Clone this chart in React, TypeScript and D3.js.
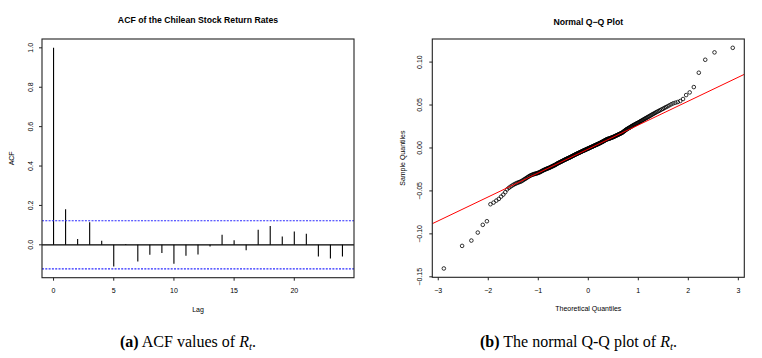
import { useEffect, useRef } from "react";
import * as d3 from "d3";

// ACF of the return series, lag 0..24
const acfLags = [0, 1, 2, 3, 4, 5, 6, 7, 8, 9, 10, 11, 12, 13, 14, 15, 16, 17, 18, 19, 20, 21, 22, 23, 24];
const acfValues = [
  1.0, 0.181, 0.03, 0.114, 0.021, -0.11, 0.004, -0.085, -0.051, -0.042, -0.096, -0.055, -0.049,
  -0.009, 0.051, 0.023, -0.028, 0.076, 0.095, 0.042, 0.068, 0.056, -0.059, -0.069, -0.059,
];
const confLimit = 0.122;
const acfXTicks = [0, 5, 10, 15, 20];
const acfYTicks = [0, 0.2, 0.4, 0.6, 0.8, 1.0];

// sorted sample quantiles
const sampleQuantiles = [
  -0.1403, -0.114, -0.1078, -0.0985, -0.0895, -0.0853, -0.0655, -0.0636, -0.0613, -0.0593, -0.0566, -0.0543, -0.0515,
  -0.0482, -0.0464, -0.045, -0.0438, -0.0427, -0.0418, -0.041,
  -0.0404, -0.0398, -0.0393, -0.0386, -0.0377, -0.0369, -0.0361, -0.0353, -0.0345, -0.0337,
  -0.033, -0.0323, -0.0318, -0.0313, -0.0309, -0.0305, -0.0302, -0.03, -0.0297, -0.0294,
  -0.0291, -0.0287, -0.0283, -0.0279, -0.0274, -0.0269, -0.0265, -0.026, -0.0256, -0.0252,
  -0.0249, -0.0245, -0.0242, -0.0238, -0.0236, -0.0233, -0.0229, -0.0226, -0.0222, -0.0218,
  -0.0215, -0.0211, -0.0208, -0.0204, -0.0201, -0.0197, -0.0193, -0.0189, -0.0184, -0.018,
  -0.0177, -0.0173, -0.017, -0.0167, -0.0163, -0.016, -0.0157, -0.0153, -0.015, -0.0147,
  -0.0143, -0.014, -0.0137, -0.0134, -0.0131, -0.0128, -0.0125, -0.0122, -0.0119, -0.0116,
  -0.0114, -0.011, -0.0108, -0.0105, -0.0102, -0.0098, -0.0095, -0.0092, -0.0089, -0.0086,
  -0.0083, -0.008, -0.0077, -0.0074, -0.0071, -0.0068, -0.0066, -0.0063, -0.006, -0.0057,
  -0.0055, -0.0052, -0.0049, -0.0047, -0.0044, -0.0041, -0.0038, -0.0035, -0.0033, -0.003,
  -0.0028, -0.0025, -0.0023, -0.002, -0.0017, -0.0015, -0.0012, -0.0009, -0.0007, -0.0005,
  -0.0002, 0.0001, 0.0004, 0.0006, 0.0009, 0.0012, 0.0013, 0.0016, 0.0019, 0.0022,
  0.0024, 0.0027, 0.003, 0.0033, 0.0035, 0.0037, 0.004, 0.0043, 0.0045, 0.0048,
  0.0051, 0.0054, 0.0056, 0.0059, 0.0062, 0.0066, 0.0069, 0.0071, 0.0075, 0.0078,
  0.0081, 0.0085, 0.0088, 0.0092, 0.0095, 0.0098, 0.01, 0.0104, 0.0105, 0.0107,
  0.0109, 0.0111, 0.0113, 0.0116, 0.0118, 0.0121, 0.0123, 0.0126, 0.0128, 0.0131,
  0.0134, 0.0138, 0.0141, 0.0144, 0.0147, 0.015, 0.0153, 0.0157, 0.016, 0.0163,
  0.0167, 0.017, 0.0173, 0.0177, 0.0182, 0.0188, 0.0193, 0.0199, 0.0204, 0.021,
  0.0216, 0.022, 0.0225, 0.023, 0.0234, 0.0239, 0.0244, 0.0249, 0.0254, 0.0259,
  0.0264, 0.0269, 0.0273, 0.0278, 0.0283, 0.0288, 0.0292, 0.0298, 0.0303, 0.0309,
  0.0315, 0.032, 0.0326, 0.0333, 0.0339, 0.0345, 0.0351, 0.0358, 0.0364, 0.0371,
  0.0378, 0.0386, 0.0393, 0.04, 0.0408, 0.0416, 0.0423, 0.0431, 0.0439, 0.0448,
  0.0456, 0.0466, 0.0476, 0.0486, 0.0497, 0.0509, 0.052, 0.0527, 0.0535, 0.0547,
  0.057, 0.0616, 0.0647, 0.0709, 0.0876, 0.1027, 0.1113, 0.1166,
];
const qqXTicks = [-3, -2, -1, 0, 1, 2, 3];
const qqYTicks = [-0.15, -0.1, -0.05, 0, 0.05, 0.1];

const W = 762, H = 358;
const SANS = "Liberation Sans, Arial, Helvetica, sans-serif";
const SERIF = "Liberation Serif, Times New Roman, serif";

// inverse normal cdf (Acklam)
function qnorm(p: number) {
  const a = [-39.69683028665376, 220.9460984245205, -275.9285104469687, 138.357751867269, -30.66479806614716, 2.506628277459239];
  const b = [-54.47609879822406, 161.5858368580409, -155.6989798598866, 66.80131188771972, -13.28068155288572];
  const c = [-0.007784894002430293, -0.3223964580411365, -2.400758277161838, -2.549732539343734, 4.374664141464968, 2.938163982698783];
  const d = [0.007784695709041462, 0.3224671290700398, 2.445134137142996, 3.754408661907416];
  const pl = 0.02425;
  if (p < pl || p > 1 - pl) {
    const q = Math.sqrt(-2 * Math.log(p < pl ? p : 1 - p));
    const v = (((((c[0] * q + c[1]) * q + c[2]) * q + c[3]) * q + c[4]) * q + c[5]) /
      ((((d[0] * q + d[1]) * q + d[2]) * q + d[3]) * q + 1);
    return p < pl ? v : -v;
  }
  const q = p - 0.5, r = q * q;
  return (((((a[0] * r + a[1]) * r + a[2]) * r + a[3]) * r + a[4]) * r + a[5]) * q /
    (((((b[0] * r + b[1]) * r + b[2]) * r + b[3]) * r + b[4]) * r + 1);
}

// R-style axis range: data range widened by 4%
function rRange(lo: number, hi: number): [number, number] {
  const e = (hi - lo) * 0.04;
  return [lo - e, hi + e];
}

const fmtMinus = (s: string) => s.replace("-", "\u2212");

function App() {
  const ref = useRef<SVGSVGElement>(null);

  useEffect(() => {
    const svg = d3.select(ref.current);
    svg.selectAll("*").remove();
    svg.append("rect").attr("width", W).attr("height", H).attr("fill", "#fff");

    // ---------- left: ACF ----------
    const A = { x0: 42, x1: 354, y0: 39, y1: 277.7 };
    const xA = d3.scaleLinear().domain(rRange(d3.min(acfLags)!, d3.max(acfLags)!)).range([A.x0, A.x1]);
    const yA = d3.scaleLinear()
      .domain(rRange(Math.min(d3.min(acfValues)!, -confLimit), Math.max(d3.max(acfValues)!, confLimit)))
      .range([A.y1, A.y0]);

    const gA = svg.append("g");
    gA.selectAll("line.spike").data(acfLags).enter().append("line")
      .attr("x1", d => xA(d)).attr("x2", d => xA(d))
      .attr("y1", yA(0)).attr("y2", (d, i) => yA(acfValues[i]))
      .attr("stroke", "#000").attr("stroke-width", 1.1);
    gA.append("line").attr("x1", A.x0).attr("x2", A.x1).attr("y1", yA(0)).attr("y2", yA(0))
      .attr("stroke", "#000").attr("stroke-width", 1.1);
    [confLimit, -confLimit].forEach(v => {
      gA.append("line").attr("x1", A.x0).attr("x2", A.x1).attr("y1", yA(v)).attr("y2", yA(v))
        .attr("stroke", "#2b2bff").attr("stroke-width", 1.1).attr("stroke-dasharray", "2,1.3");
    });
    gA.append("rect").attr("x", A.x0).attr("y", A.y0).attr("width", A.x1 - A.x0).attr("height", A.y1 - A.y0)
      .attr("fill", "none").attr("stroke", "#222").attr("stroke-width", 1.1);

    acfXTicks.forEach(t => {
      gA.append("line").attr("x1", xA(t)).attr("x2", xA(t)).attr("y1", A.y1).attr("y2", A.y1 + 3)
        .attr("stroke", "#222");
      gA.append("text").attr("x", xA(t)).attr("y", 290.7).attr("text-anchor", "middle")
        .attr("dominant-baseline", "central").attr("font-family", SANS).attr("font-size", 7).text(d3.format("d")(t));
    });
    acfYTicks.forEach(t => {
      gA.append("line").attr("x1", A.x0 - 3).attr("x2", A.x0).attr("y1", yA(t)).attr("y2", yA(t))
        .attr("stroke", "#222");
      gA.append("text").attr("transform", `translate(30,${yA(t)}) rotate(-90)`).attr("text-anchor", "middle")
        .attr("dominant-baseline", "central").attr("font-family", SANS).attr("font-size", 7).text(d3.format(".1f")(t));
    });
    gA.append("text").attr("x", (A.x0 + A.x1) / 2).attr("y", 19.5).attr("text-anchor", "middle")
      .attr("dominant-baseline", "central").attr("font-family", SANS).attr("font-weight", "bold").attr("font-size", 8.7)
      .text("ACF of the Chilean Stock Return Rates");
    gA.append("text").attr("x", (A.x0 + A.x1) / 2).attr("y", 309).attr("text-anchor", "middle")
      .attr("dominant-baseline", "central").attr("font-family", SANS).attr("font-size", 7).text("Lag");
    gA.append("text").attr("transform", `translate(11,${(A.y0 + A.y1) / 2}) rotate(-90)`).attr("text-anchor", "middle")
      .attr("dominant-baseline", "central").attr("font-family", SANS).attr("font-size", 7).text("ACF");

    // ---------- right: normal Q-Q ----------
    const B = { x0: 432.3, x1: 744.3, y0: 39, y1: 277.3 };
    const n = sampleQuantiles.length;
    const theo = sampleQuantiles.map((_, i) => qnorm((i + 1 - 0.5) / n));
    const xB = d3.scaleLinear().domain(rRange(d3.min(theo)!, d3.max(theo)!)).range([B.x0, B.x1]);
    const yB = d3.scaleLinear().domain(rRange(d3.min(sampleQuantiles)!, d3.max(sampleQuantiles)!)).range([B.y1, B.y0]);

    const gB = svg.append("g");
    gB.append("clipPath").attr("id", "qqclip").append("rect")
      .attr("x", B.x0).attr("y", B.y0).attr("width", B.x1 - B.x0).attr("height", B.y1 - B.y0);

    gB.selectAll("circle").data(sampleQuantiles).enter().append("circle")
      .attr("cx", (d, i) => xB(theo[i])).attr("cy", d => yB(d)).attr("r", 1.8)
      .attr("fill", "none").attr("stroke", "#000").attr("stroke-width", 0.8);

    // qqline through the quartiles
    const q1 = d3.quantile(sampleQuantiles, 0.25)!, q3 = d3.quantile(sampleQuantiles, 0.75)!;
    const z1 = qnorm(0.25), z3 = qnorm(0.75);
    const slope = (q3 - q1) / (z3 - z1);
    const icpt = q1 - slope * z1;
    const [xa, xb] = xB.domain();
    gB.append("line").attr("clip-path", "url(#qqclip)")
      .attr("x1", xB(xa)).attr("y1", yB(icpt + slope * xa))
      .attr("x2", xB(xb)).attr("y2", yB(icpt + slope * xb))
      .attr("stroke", "#ff0000").attr("stroke-width", 1);

    gB.append("rect").attr("x", B.x0).attr("y", B.y0).attr("width", B.x1 - B.x0).attr("height", B.y1 - B.y0)
      .attr("fill", "none").attr("stroke", "#222").attr("stroke-width", 1.1);

    qqXTicks.forEach(t => {
      gB.append("line").attr("x1", xB(t)).attr("x2", xB(t)).attr("y1", B.y1).attr("y2", B.y1 + 3).attr("stroke", "#222");
      gB.append("text").attr("x", xB(t)).attr("y", 290.7).attr("text-anchor", "middle")
        .attr("dominant-baseline", "central").attr("font-family", SANS).attr("font-size", 7)
        .text(fmtMinus(d3.format("d")(t)));
    });
    qqYTicks.forEach(t => {
      gB.append("line").attr("x1", B.x0 - 3).attr("x2", B.x0).attr("y1", yB(t)).attr("y2", yB(t)).attr("stroke", "#222");
      gB.append("text").attr("transform", `translate(419.5,${yB(t)}) rotate(-90)`).attr("text-anchor", "middle")
        .attr("dominant-baseline", "central").attr("font-family", SANS).attr("font-size", 7)
        .text(fmtMinus(d3.format(".2f")(t)));
    });
    gB.append("text").attr("x", (B.x0 + B.x1) / 2).attr("y", 22).attr("text-anchor", "middle")
      .attr("dominant-baseline", "central").attr("font-family", SANS).attr("font-weight", "bold").attr("font-size", 8.7)
      .text("Normal Q\u2212Q Plot");
    gB.append("text").attr("x", (B.x0 + B.x1) / 2).attr("y", 308.5).attr("text-anchor", "middle")
      .attr("dominant-baseline", "central").attr("font-family", SANS).attr("font-size", 7).text("Theoretical Quantiles");
    gB.append("text").attr("transform", `translate(402,${(B.y0 + B.y1) / 2}) rotate(-90)`).attr("text-anchor", "middle")
      .attr("dominant-baseline", "central").attr("font-family", SANS).attr("font-size", 7).text("Sample Quantiles");

    // ---------- captions ----------
    const caption = (cx: number, label: string, body: string) => {
      const t = svg.append("text").attr("x", cx).attr("y", 347).attr("text-anchor", "middle")
        .attr("font-family", SERIF).attr("font-size", 16).attr("fill", "#000");
      t.append("tspan").attr("font-weight", "bold").text(label);
      t.append("tspan").text(" " + body + " ");
      t.append("tspan").attr("font-style", "italic").text("R");
      t.append("tspan").attr("font-style", "italic").attr("font-size", 11).attr("dy", 3).text("t");
      t.append("tspan").attr("dy", -3).text(".");
    };
    caption(188, "(a)", "ACF values of");
    caption(578.5, "(b)", "The normal Q-Q plot of");
  }, []);

  return (
    <svg ref={ref} width={W} height={H}
      style={{ position: "absolute", left: 0, top: 0, display: "block" }} />
  );
}

export default App;
